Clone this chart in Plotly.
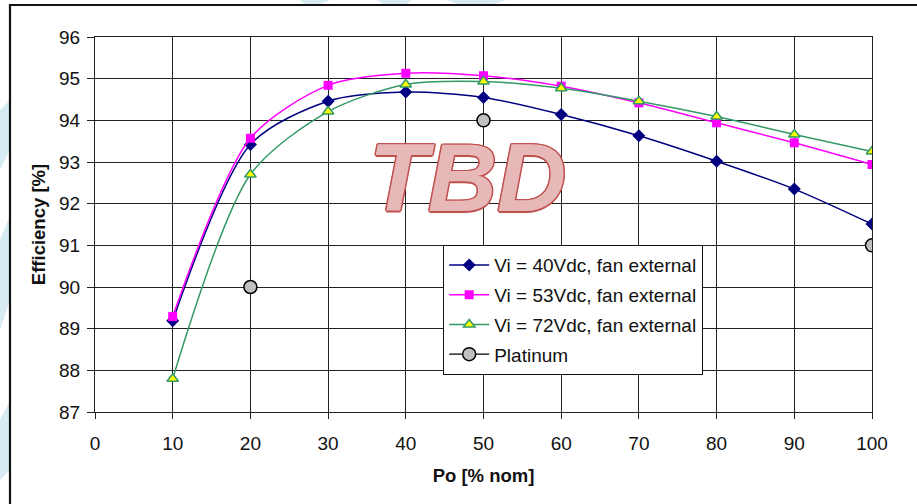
import plotly.graph_objects as go

# ---------------- data ----------------
po = [10, 20, 30, 40, 50, 60, 70, 80, 90, 100]
eff_40 = [89.19, 93.42, 94.46, 94.68, 94.55, 94.14, 93.63, 93.02, 92.35, 91.51]
eff_53 = [89.29, 93.57, 94.84, 95.13, 95.07, 94.82, 94.42, 93.94, 93.46, 92.94]
eff_72 = [87.80, 92.70, 94.21, 94.86, 94.93, 94.77, 94.46, 94.09, 93.66, 93.25]
eff_platinum = [None, 90.0, None, None, 94.0, None, None, None, None, 91.0]

names = ["Vi = 40Vdc, fan external", "Vi = 53Vdc, fan external",
         "Vi = 72Vdc, fan external", "Platinum"]
x_ticks = list(range(0, 101, 10))
y_ticks = list(range(87, 97))

FONT = "Arial, Liberation Sans, sans-serif"

# plot area in pixels (for decorative paper shapes)
L, R, T, B = 95, 872, 37, 412
W, H = 917, 504


def px(xp):
    return (xp - L) / (R - L)


def py(yp):
    return (B - yp) / (B - T)


fig = go.Figure()

fig.add_trace(go.Scatter(
    x=po, y=eff_40, name=names[0], legendgroup="a", mode="lines+markers",
    line=dict(color="#000080", width=1.5, shape="spline", smoothing=0.8),
    marker=dict(symbol="diamond", size=10, color="#000080")))
fig.add_trace(go.Scatter(
    x=po, y=eff_53, name=names[1], legendgroup="b", mode="lines+markers",
    line=dict(color="#FF00FF", width=1.5, shape="spline", smoothing=0.8),
    marker=dict(symbol="square", size=9, color="#FF00FF")))
fig.add_trace(go.Scatter(
    x=po, y=eff_72, name=names[2], legendgroup="c", mode="lines+markers",
    line=dict(color="#339966", width=1.5, shape="spline", smoothing=0.8),
    marker=dict(symbol="triangle-up", size=10, color="#FFFF00",
                line=dict(color="#339966", width=1.5))))
fig.add_trace(go.Scatter(
    x=po, y=eff_platinum, name=names[3], legendgroup="d", mode="lines+markers",
    connectgaps=False,
    line=dict(color="#000000", width=1.2),
    marker=dict(symbol="circle", size=13, color="#C0C0C0",
                line=dict(color="#000000", width=1.5))))

shapes = []
cyan = "rgba(205,230,240,0.8)"
# faint background watermark pieces outside the frame
for pts in [
    [(0, 240), (10, 215), (10, 300), (0, 330)],
    [(0, 420), (10, 400), (10, 470), (0, 480)],
    [(0, 110), (10, 100), (10, 150), (0, 170)],
    [(300, 0), (330, 0), (318, 5), (305, 5)],
    [(376, 0), (412, 0), (405, 5), (385, 5)],
    [(447, 0), (506, 0), (490, 5), (460, 5)],
]:
    path = "M " + " L ".join(f"{px(a):.4f},{py(b):.4f}" for a, b in pts) + " Z"
    shapes.append(dict(type="path", xref="paper", yref="paper", path=path,
                       fillcolor=cyan, line=dict(width=0), layer="below"))
# outer frame
shapes.append(dict(type="rect", xref="paper", yref="paper",
                   x0=px(10), y0=py(W), x1=px(W + 20), y1=py(5),
                   fillcolor="white", line=dict(color="#111", width=2.2),
                   layer="below"))

fig.update_layout(
    width=W, height=H,
    margin=dict(l=L, r=W - R, t=T, b=H - B, autoexpand=False),
    paper_bgcolor="white", plot_bgcolor="rgba(0,0,0,0)",
    font=dict(family=FONT, size=19, color="#111"),
    shapes=shapes,
    showlegend=True,
    legend=dict(x=px(443), y=py(245), xanchor="left", yanchor="top",
                bgcolor="white", bordercolor="#111", borderwidth=1.2,
                font=dict(family=FONT, size=19, color="#111"),
                tracegroupgap=2, itemwidth=40),
    annotations=[dict(
        x=47.9, y=92.62, xref="x", yref="y", text="<b><i>TBD</i></b>",
        showarrow=False, xanchor="center", yanchor="middle",
        font=dict(family=FONT, size=96, color="#E6B9B8",
                  shadow="1.5px 0 0 #C0504D, -1.5px 0 0 #C0504D, 0 1.5px 0 #C0504D, 0 -1.5px 0 #C0504D, 1px 1px 0 #C0504D, -1px -1px 0 #C0504D, 1px -1px 0 #C0504D, -1px 1px 0 #C0504D"))],
)

fig.update_xaxes(
    range=[0, 100], tickvals=x_ticks, ticktext=[str(v) for v in x_ticks],
    showgrid=True, gridcolor="#222", gridwidth=1.2,
    showline=True, linecolor="#222", linewidth=1.2, mirror=True,
    ticks="outside", ticklen=6, tickcolor="#222", tickwidth=1.2,
    ticklabelstandoff=8,
    zeroline=False, tickfont=dict(size=19),
    title=dict(text="<b>Po [% nom]</b>", font=dict(size=18.5), standoff=16),
)
fig.update_yaxes(
    range=[87, 96], tickvals=y_ticks, ticktext=[str(v) for v in y_ticks],
    showgrid=True, gridcolor="#222", gridwidth=1.2,
    showline=True, linecolor="#222", linewidth=1.2, mirror=True,
    ticks="outside", ticklen=7, tickcolor="#222", tickwidth=1.2,
    ticklabelstandoff=3,
    zeroline=False, tickfont=dict(size=19),
    title=dict(text="<b>Efficiency [%]</b>", font=dict(size=18.5), standoff=8),
)

fig.write_html("out.html",
               config={"displayModeBar": False},
               post_script="document.body.style.margin='0';"
                           "document.body.style.overflow='hidden';")
